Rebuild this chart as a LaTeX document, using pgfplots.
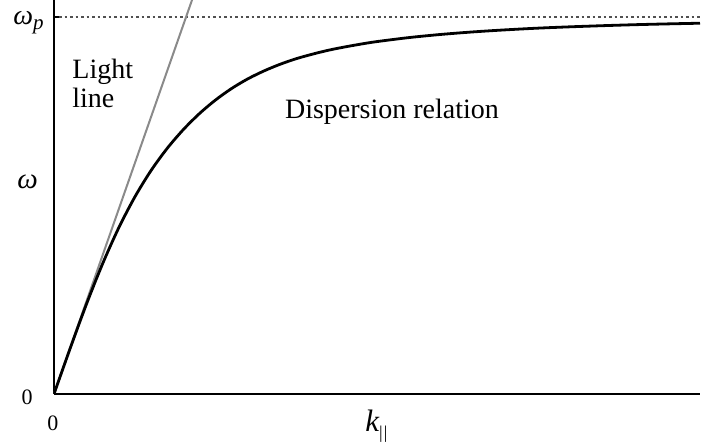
\documentclass[border=0pt]{standalone}
\usepackage{fontspec}
\setmainfont{Liberation Serif}
\usepackage{pgfplots}
\pgfplotsset{compat=1.18}
\definecolor{lightline}{RGB}{138,138,138}
\definecolor{dotgray}{RGB}{80,80,80}
\begin{document}
\begin{tikzpicture}
\begin{axis}[
  scale only axis, width=323pt, height=197pt,
  xmin=0, xmax=10, ymin=0, ymax=1.045,
  axis lines*=left,
  axis line style={line width=1.4pt, black},
  xtick=\empty, ytick={1}, yticklabels={},
  tick align=inside, major tick length=3pt,
  tick style={line width=1pt, black},
  clip mode=individual,
]
% plasma frequency asymptote
\addplot[dotgray, line width=1.2pt, dash pattern=on 1.2pt off 1.55pt]
  coordinates {(0.08,1) (10,1)};
% light line omega = c k
\addplot[lightline, line width=1pt] coordinates {(0,0) (2.2,1.076)};
% surface plasmon dispersion
\addplot[black, line width=1.4pt, smooth] coordinates {
  (0,0) (0.25,0.1209) (0.5,0.2373) (0.75,0.3445) (1.0,0.4400)
  (1.25,0.5222) (1.5,0.5921) (1.75,0.6510) (2.0,0.7009) (2.25,0.7435)
  (2.5,0.7797) (2.75,0.8103) (3.0,0.8358) (3.25,0.8568) (3.5,0.8745)
  (3.75,0.8893) (4.0,0.9013) (4.25,0.9118) (4.5,0.9204) (4.75,0.9280)
  (5.0,0.9347) (5.5,0.9454) (6.0,0.9538) (6.5,0.9605) (7.0,0.9659)
  (7.5,0.9704) (8.0,0.9739) (8.5,0.9769) (9.0,0.9795) (9.5,0.9816)
  (10,0.9834)
};
% axis labels
\node[font=\fontsize{11}{13}\selectfont] at (axis cs:0,0) [xshift=-13.5pt, yshift=-1.5pt] {0};
\node[font=\fontsize{11}{13}\selectfont] at (axis cs:0,0) [xshift=-0.5pt, yshift=-14.5pt] {0};
\node[anchor=base west, inner sep=0pt, font=\fontsize{14}{16}\selectfont]
  at (axis cs:0,1) [xshift=-20.5pt, yshift=-4pt]
  {\itshape ω\raisebox{-2.5pt}{\fontsize{10.5}{12}\selectfont p}};
\node[anchor=base west, inner sep=0pt, font=\fontsize{14.5}{16}\selectfont]
  at (axis cs:0,0.546) [xshift=-18.5pt] {\itshape ω};
\node[anchor=base west, inner sep=0pt, font=\fontsize{15.5}{18}\selectfont]
  at (axis cs:4.814,0) [yshift=-19pt]
  {\itshape k\raisebox{-3.5pt}{\upshape\fontsize{9}{10}\selectfont |\kern0.6pt|}};
% annotations
\node[anchor=base west, inner sep=0pt, font=\fontsize{14}{16}\selectfont] at (axis cs:0.279,0.838) {Light};
\node[anchor=base west, inner sep=0pt, font=\fontsize{14}{16}\selectfont] at (axis cs:0.279,0.759) {line};
\node[anchor=base, inner sep=0pt, font=\fontsize{14}{16}\selectfont] at (axis cs:5.232,0.732) {Dispersion relation};
\end{axis}
\pgfresetboundingbox
\path[use as bounding box] (-27pt,-27pt) rectangle (323.5pt,197pt);
\end{tikzpicture}
\end{document}
